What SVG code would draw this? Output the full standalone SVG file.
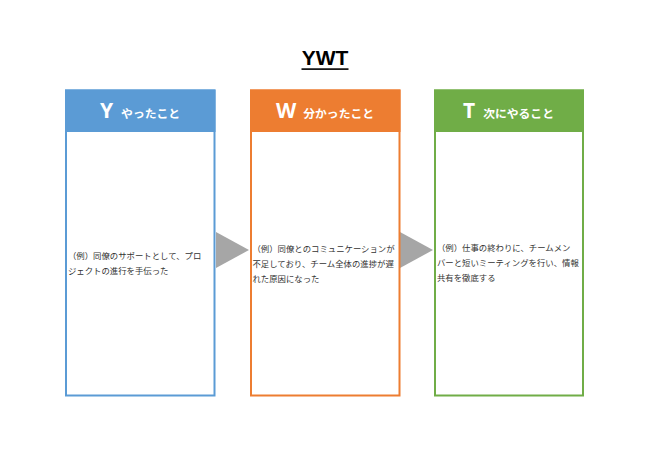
<svg xmlns="http://www.w3.org/2000/svg" width="650" height="459" viewBox="0 0 650 459">
<style>
.jp{font-family:"Noto Sans CJK JP","Noto Sans",sans-serif;}
.body{font-size:8.4px;fill:#333333;}
.head{fill:#ffffff;}
.letter{font-size:21px;font-weight:bold;font-family:"Noto Sans","Noto Sans CJK JP",sans-serif;}
.sub{font-size:11.8px;font-weight:bold;}
.box{fill:#ffffff;stroke-width:2;}
.arrow{fill:#a6a6a6;}
</style>
<rect width="650" height="459" fill="#ffffff"/>
<g id="title">
<text x="325" y="65" text-anchor="middle" font-family="Liberation Sans, Arial, sans-serif" font-weight="bold" font-size="21" fill="#000000">YWT</text>
<rect x="301.5" y="68.3" width="47" height="1.6" fill="#000000"/>
</g>
<g id="connectors">
<polygon class="arrow" points="216,232 249,250 216,268"/>
<polygon class="arrow" points="400,232 433,250 400,268"/>
</g>
<g id="node-Y">
<rect class="box" x="66" y="90.5" width="148.5" height="305" stroke="#5B9BD5"/>
<rect x="65" y="89.5" width="150.5" height="42.5" fill="#5B9BD5"/>
<text class="jp head" x="140" y="118" text-anchor="middle"><tspan class="letter">Y</tspan><tspan class="sub" dx="8">やったこと</tspan></text>
<text class="jp body" x="68" y="259">（例）同僚のサポートとして、プロ</text>
<text class="jp body" x="68" y="274">ジェクトの進行を手伝った</text>
</g>
<g id="node-W">
<rect class="box" x="251" y="90.5" width="148.5" height="305" stroke="#ED7D31"/>
<rect x="250" y="89.5" width="150.5" height="42.5" fill="#ED7D31"/>
<text class="jp head" x="325" y="118" text-anchor="middle"><tspan class="letter">W</tspan><tspan class="sub" dx="7">分かったこと</tspan></text>
<text class="jp body" x="252.5" y="251.5">（例）同僚とのコミュニケーションが</text>
<text class="jp body" x="252.5" y="266.5">不足しており、チーム全体の進捗が遅</text>
<text class="jp body" x="252.5" y="281.5">れた原因になった</text>
</g>
<g id="node-T">
<rect class="box" x="435" y="90.5" width="148" height="305" stroke="#70AD47"/>
<rect x="434" y="89.5" width="150" height="42.5" fill="#70AD47"/>
<text class="jp head" x="508.5" y="118" text-anchor="middle"><tspan class="letter">T</tspan><tspan class="sub" dx="8">次にやること</tspan></text>
<text class="jp body" x="437" y="251">（例）仕事の終わりに、チームメン</text>
<text class="jp body" x="437" y="266">バーと短いミーティングを行い、情報</text>
<text class="jp body" x="437" y="281">共有を徹底する</text>
</g>
</svg>
